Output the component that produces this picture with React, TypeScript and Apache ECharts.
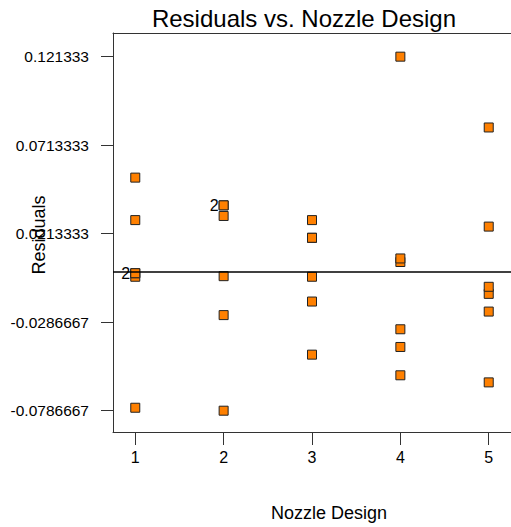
import React, { useEffect, useRef } from "react";
import * as echarts from "echarts";

// Residuals for each nozzle design
const design1 = [-0.077, -0.003, -0.001, -0.001, 0.029, 0.053];
const design2 = [-0.078667, -0.024667, 0.037333, 0.037333, -0.002667, 0.031333];
const design3 = [-0.047, -0.003, 0.019, 0.019, 0.029, -0.017];
const design4 = [0.121333, 0.005333, 0.007333, -0.032667, -0.042667, -0.058667];
const design5 = [0.081333, 0.025333, -0.062667, -0.022667, -0.012667, -0.008667];
const designs = [design1, design2, design3, design4, design5];

// Points marked with a count of coincident observations: [design, residual, count]
const coincident: [number, number, string][] = [
  [1, -0.001, "2"],
  [2, 0.037333, "2"],
];

const xTicks = [1, 2, 3, 4, 5];
const yTicks = [-0.0786667, -0.0286667, 0.0213333, 0.0713333, 0.121333];

const titleText = "Residuals vs. Nozzle Design";
const xName = "Nozzle Design";
const yName = "Residuals";

const FONT = "'Liberation Sans', Arial, Helvetica, sans-serif";

export default function App() {
  const ref = useRef<HTMLDivElement>(null);
  useEffect(() => {
    if (!ref.current) return;
    const chart = echarts.init(ref.current, null, { renderer: "svg" });

    const data: any[] = [];
    const labelled = new Set<string>();
    designs.forEach((arr, i) => {
      const x = i + 1;
      arr.forEach((v) => {
        const hit = coincident.find((c) => c[0] === x && c[1] === v);
        const key = x + ":" + v;
        if (hit && !labelled.has(key)) {
          labelled.add(key);
          data.push({
            value: [x, v],
            label: {
              show: true,
              formatter: hit[2],
              position: "left",
              distance: 0,
              color: "#000",
              fontSize: 16,
              fontFamily: FONT,
            },
          });
        } else {
          data.push({ value: [x, v] });
        }
      });
    });

    const axisLineStyle = { color: "#333", width: 1 };

    chart.setOption({
      animation: false,
      backgroundColor: "#fff",
      grid: {
        left: 113,
        top: 33,
        width: 400,
        height: 399,
        show: false,
        containLabel: false,
      },
      xAxis: [
        {
          type: "value",
          position: "bottom",
          min: 0.748,
          max: 5.252,
          splitLine: { show: false },
          axisLine: { show: true, onZero: false, lineStyle: axisLineStyle },
          axisTick: {
            show: true,
            inside: false,
            length: 13,
            customValues: xTicks,
            lineStyle: axisLineStyle,
          },
          axisLabel: {
            customValues: xTicks,
            margin: 17,
            fontSize: 16,
            color: "#000",
            fontFamily: FONT,
            formatter: (v: number) => String(v),
          },
        },
        {
          type: "value",
          position: "top",
          min: 0.748,
          max: 5.252,
          splitLine: { show: false },
          axisLine: { show: true, onZero: false, lineStyle: axisLineStyle },
          axisTick: { show: false },
          axisLabel: { show: false },
        },
      ],
      yAxis: {
        type: "value",
        min: -0.0907,
        max: 0.1347,
        splitLine: { show: false },
        axisLine: { show: true, onZero: false, lineStyle: axisLineStyle },
        axisTick: {
          show: true,
          inside: false,
          length: 12,
          customValues: yTicks,
          lineStyle: axisLineStyle,
        },
        axisLabel: {
          customValues: yTicks,
          margin: 24,
          fontSize: 15.5,
          color: "#000",
          fontFamily: FONT,
          formatter: (v: number) => String(v),
        },
      },
      series: [
        {
          type: "scatter",
          xAxisIndex: 0,
          symbol: "rect",
          symbolSize: 9,
          itemStyle: { color: "#FF8000", borderColor: "#222", borderWidth: 1, opacity: 1 },
          data,
          z: 2,
          markLine: {
            silent: true,
            symbol: ["none", "none"],
            label: { show: false },
            lineStyle: { color: "#000", width: 1.5, type: "solid" },
            data: [{ yAxis: 0 }],
            z: 5,
          },
        },
      ],
      graphic: [
        {
          type: "text",
          x: 304,
          y: 18.4,
          style: {
            text: titleText,
            fontSize: 24,
            fontFamily: FONT,
            fill: "#000",
            textAlign: "center",
            verticalAlign: "middle",
          },
        },
        {
          type: "text",
          x: 329,
          y: 513,
          style: {
            text: xName,
            fontSize: 18,
            fontFamily: FONT,
            fill: "#000",
            textAlign: "center",
            verticalAlign: "middle",
          },
        },
        {
          type: "text",
          x: 39,
          y: 235,
          rotation: Math.PI / 2,
          style: {
            text: yName,
            fontSize: 18,
            fontFamily: FONT,
            fill: "#000",
            textAlign: "center",
            verticalAlign: "middle",
          },
        },
      ],
    });
    return () => chart.dispose();
  }, []);
  return (
    <div
      ref={ref}
      style={{ position: "fixed", left: 0, top: 0, width: 511, height: 527, background: "#fff" }}
    />
  );
}
